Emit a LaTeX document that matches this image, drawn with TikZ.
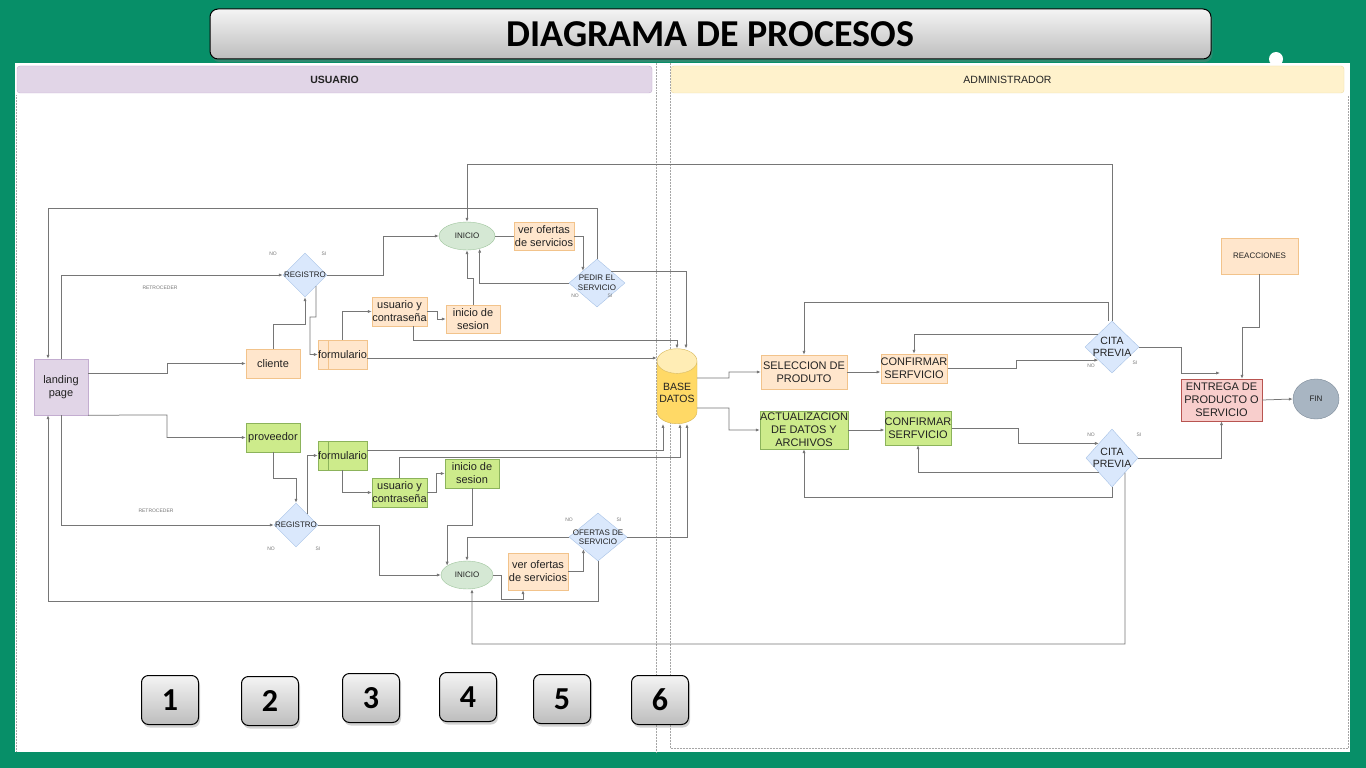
\documentclass[tikz,border=0pt]{standalone}
\usepackage{fontspec}
\setmainfont{Liberation Sans}
\newfontfamily\titlefont{Carlito}
\usetikzlibrary{shapes.geometric,arrows.meta,shadows,positioning}

\definecolor{bggreen}{HTML}{078F68}
\definecolor{orfill}{HTML}{FFE6CC}
\definecolor{ordraw}{HTML}{F2C38B}
\definecolor{grfill}{HTML}{CDEB8B}
\definecolor{grdraw}{HTML}{8CB35B}
\definecolor{lvfill}{HTML}{E1D5E7}
\definecolor{lvdraw}{HTML}{C3ADD0}
\definecolor{blfill}{HTML}{DAE8FC}
\definecolor{bldraw}{HTML}{A8C2E6}
\definecolor{ellfill}{HTML}{D5E8D4}
\definecolor{elldraw}{HTML}{9CC39A}
\definecolor{redfill}{HTML}{F8CECC}
\definecolor{reddraw}{HTML}{B85450}
\definecolor{finfill}{HTML}{A8B5C2}
\definecolor{findraw}{HTML}{7D8B99}
\definecolor{ylfill}{HTML}{FFF2CC}
\definecolor{yldraw}{HTML}{EEDCA5}
\definecolor{dbbody}{HTML}{FFD966}
\definecolor{dbtop}{HTML}{FFEDB5}
\definecolor{dbdraw}{HTML}{D6B656}
\definecolor{linegray}{HTML}{767676}
\definecolor{txtc}{HTML}{222222}
\definecolor{tinyc}{HTML}{777777}
\definecolor{btntop}{HTML}{F4F4F4}
\definecolor{btnbot}{HTML}{BDBDBD}

\begin{document}
\begin{tikzpicture}[
        x=1pt, y=-1pt,
        font=\fontsize{11}{13}\selectfont,
        line/.style={
            draw=linegray,
            line width=0.75pt
        },
        arrow/.style={
            line,
            -{Latex[length=4pt,width=3.2pt]}
        },
        box/.style={
            rectangle,
            draw,
            inner sep=0pt,
            align=center,
            text=txtc
        },
        orangebox/.style={
            box,
            fill=orfill,
            draw=ordraw
        },
        greenbox/.style={
            box,
            fill=grfill,
            draw=grdraw
        },
        processbox/.style={
            path picture={
                \draw[draw=#1] ([xshift=10pt]path picture bounding box.north west)
                    -- ([xshift=10pt]path picture bounding box.south west);
            }
        },
        decision/.style={
            diamond,
            draw=bldraw,
            fill=blfill,
            inner sep=0pt
        },
        dtext/.style={
            align=center,
            text=txtc,
            font=\fontsize{8}{9.5}\selectfont
        },
        startnode/.style={
            ellipse,
            draw=elldraw,
            fill=ellfill,
            inner sep=0pt,
            text=txtc,
            font=\fontsize{8}{9.5}\selectfont
        },
        tinylabel/.style={
            text=tinyc,
            inner sep=0pt,
            font=\fontsize{5}{6}\selectfont
        },
        lane/.style={
            rectangle,
            rounded corners=3pt,
            inner sep=0pt,
            minimum height=27pt,
            text=txtc,
            font=\fontsize{10.5}{12}\selectfont
        },
        lanesep/.style={
            densely dotted,
            draw=gray!70,
            line width=0.5pt
        },
        numbtn/.style={
            rectangle,
            rounded corners=7pt,
            draw=black,
            line width=1pt,
            top color=btntop,
            bottom color=btnbot,
            minimum width=57pt,
            minimum height=49pt,
            drop shadow={opacity=0.35, shadow xshift=1.5pt, shadow yshift=-3pt},
            font=\titlefont\bfseries\fontsize{32}{34}\selectfont
        }
    ]
    \useasboundingbox (0,0) rectangle (1366,768);
    % Background and lanes
    \fill[bggreen] (0,0) rectangle (1366,768);
    \fill[white] (15,63) rectangle (1350,752);
    \fill[white] (1276,59) circle (7pt);
    \node[numbtn, minimum width=1001pt, minimum height=50pt, rounded corners=8pt,
        font=\titlefont\bfseries\fontsize{38}{40}\selectfont] (title) at (710.5,34) {DIAGRAMA DE PROCESOS};
    \node[lane, fill=lvfill, draw=lvdraw, minimum width=635pt,
        font=\bfseries\fontsize{10.5}{12}\selectfont] (usuario) at (334.5,79.5) {USUARIO};
    \node[lane, fill=ylfill, draw=yldraw, minimum width=673pt] (admin) at (1007.5,79.5) {ADMINISTRADOR};
    \draw[lanesep] (656,63) -- (656,752);
    \draw[lanesep] (670,63) -- (670,748) -- (1348,748) -- (1348,95);
    \draw[lanesep] (16,95) -- (16,752);

    % Usuario: client side
    \node[box, fill=lvfill, draw=lvdraw, minimum width=54pt, minimum height=56pt] (landing) at (61,387) {landing\\page};
    \node[orangebox, minimum width=54pt, minimum height=29pt] (cliente) at (273,363.5) {cliente};
    \node[greenbox, minimum width=54pt, minimum height=29pt] (proveedor) at (273,437.5) {proveedor};
    \node[decision, minimum width=44pt, minimum height=44pt, label={[dtext]center:REGISTRO}] (reg1) at (305,275) {};
    \node[decision, minimum width=44pt, minimum height=44pt, label={[dtext]center:REGISTRO}] (reg2) at (296,525) {};
    \node[orangebox, processbox=ordraw, minimum width=49pt, minimum height=29pt] (form1) at (342.5,354.5) {formulario};
    \node[greenbox, processbox=grdraw, minimum width=49pt, minimum height=29pt] (form2) at (342.5,455.5) {formulario};
    \node[orangebox, minimum width=55pt, minimum height=29pt] (usr1) at (399.5,311.5) {usuario y\\contraseña};
    \node[orangebox, minimum width=54pt, minimum height=28pt] (ses1) at (473,319) {inicio de\\sesion};
    \node[greenbox, minimum width=55pt, minimum height=29pt] (usr2) at (399.5,492.5) {usuario y\\contraseña};
    \node[greenbox, minimum width=54pt, minimum height=29pt] (ses2) at (472,473.5) {inicio de\\sesion};
    \node[startnode, minimum width=56pt, minimum height=28pt] (inicio1) at (467,236) {INICIO};
    \node[startnode, minimum width=52pt, minimum height=28pt] (inicio2) at (467,575) {INICIO};
    \node[orangebox, minimum width=60pt, minimum height=28pt] (ver1) at (544,236) {ver ofertas\\de servicios};
    \node[orangebox, minimum width=60pt, minimum height=37pt] (ver2) at (538,571.5) {ver ofertas\\de servicios};
    \node[decision, minimum width=56pt, minimum height=48pt, label={[dtext]center:{PEDIR EL\\SERVICIO}}] (pedir) at (597,283) {};
    \node[decision, minimum width=58pt, minimum height=48pt, label={[dtext]center:{OFERTAS DE\\SERVICIO}}] (ofertas) at (598,537) {};
    \node[cylinder, shape border rotate=90, aspect=0.7, draw=dbdraw, cylinder uses custom fill,
        cylinder body fill=dbbody, cylinder end fill=dbtop, inner sep=0pt, align=center, text=txtc,
        minimum width=40pt, minimum height=75pt, font=\fontsize{10.5}{12}\selectfont] (base) at (677,392.5) {BASE\\DATOS};

    % Administrador
    \node[orangebox, minimum width=86pt, minimum height=34pt] (sel) at (804,372) {SELECCION DE\\PRODUTO};
    \node[orangebox, minimum width=64pt, minimum height=29pt] (conf1) at (914,368.5) {CONFIRMAR\\SERFVICIO};
    \node[greenbox, minimum width=86pt, minimum height=38pt] (act) at (804,430) {ACTUALIZACION\\DE DATOS Y\\ARCHIVOS};
    \node[greenbox, minimum width=66pt, minimum height=34pt] (conf2) at (918,428) {CONFIRMAR\\SERFVICIO};
    \node[decision, minimum width=54pt, minimum height=52pt,
        label={[dtext, font=\fontsize{10.5}{12}\selectfont]center:{CITA\\PREVIA}}] (cita1) at (1112,347) {};
    \node[decision, minimum width=52pt, minimum height=58pt,
        label={[dtext, font=\fontsize{10.5}{12}\selectfont]center:{CITA\\PREVIA}}] (cita2) at (1112,458) {};
    \node[orangebox, minimum width=77pt, minimum height=36pt, font=\fontsize{8}{9.5}\selectfont] (reac) at (1259.5,256) {REACCIONES};
    \node[box, fill=redfill, draw=reddraw, minimum width=81pt, minimum height=42pt] (entrega) at (1221.5,400) {ENTREGA DE\\PRODUCTO O\\SERVICIO};
    \node[ellipse, draw=findraw, fill=finfill, inner sep=0pt, minimum width=46pt, minimum height=40pt,
        font=\fontsize{8}{9.5}\selectfont, text=txtc] (fin) at (1316,399) {FIN};
    \coordinate (entin) at (1220,373);

    % NO / SI labels
    \foreach \name/\txt/\x/\y in {no1/NO/273/254, si1/SI/324/254, no2/NO/271/549, si2/SI/318/549,
        no3/NO/575/296, si3/SI/610/296, no4/NO/569/520, si4/SI/619/520,
        no5/NO/1091/366, si5/SI/1135/363, no6/NO/1091/435, si6/SI/1139/435}
        \node[tinylabel] (\name) at (\x,\y) {\txt};
    \node[tinylabel] (ret1) at (160,288) {RETROCEDER};
    \node[tinylabel] (ret2) at (156,511) {RETROCEDER};

    % Connections: client side
    \draw[arrow] (pedir.north) |- (48,208) -- (landing.north -| 48,0);
    \draw[arrow] (landing.north) |- (reg1.west);
    \draw[arrow] (cliente.north) |- (305,324) -- (reg1.south);
    \draw[arrow] (reg1.south east) -- (316,317) -- (310,317) |- (form1.west);
    \draw[arrow] (landing.east |- 0,373) -- (167,373) |- (cliente.west);
    \draw[arrow] (landing.south east) -- (167,415) |- (proveedor.west);
    \draw[arrow] (landing.south) |- (reg2.west);
    \draw[arrow] (ofertas.south) |- (48,601) -- (landing.south -| 48,0);
    \draw[arrow] (proveedor.south) |- (296,478) -- (reg2.north);
    \draw[arrow] (reg2.north east) |- (form2.west);
    \draw[arrow] (reg2.east) -- (379,525) |- (inicio2.west);
    \draw[arrow] (reg1.east) -- (383,275) |- (inicio1.west);
    \draw[arrow] (cita1.north) -- (1112,164) -| (inicio1.north);
    \draw[line] (inicio1) -- (ver1);
    \draw[arrow] (ver1.east) -| (pedir.north west);
    \draw[arrow] (pedir.west) -| (inicio1.-45);
    \draw[arrow] (ses1.north) -- (473,278) -| (inicio1.south);
    \draw[arrow] (usr1.east) -- (437,311.5) |- (ses1.west);
    \draw[arrow] (form1.north) |- (usr1.west);
    \draw[arrow] (usr1.south -| 413,0) -- (413,340) -| (base.north);
    \draw[arrow] (form1.east |- 0,358) -- (base.west |- 0,358);
    \draw[arrow] (pedir.north east) -| ([xshift=9pt]base.north);
    % Connections: provider side
    \draw[arrow] ([yshift=5pt]form2.east) -| ([xshift=-14pt]base.south);
    \draw[arrow] (usr2.north) |- (680,457) -- ([xshift=3pt]base.south);
    \draw[arrow] (ofertas.east) -| ([xshift=10pt]base.south);
    \draw[arrow] (form2.south) |- (usr2.west);
    \draw[arrow] (usr2.east) -- (436,492.5) |- (ses2.west);
    \draw[arrow] (ses2.south) -- (472,525) -| (inicio2.155);
    \draw[arrow] (ofertas.west) -| (inicio2.north);
    \draw[arrow] (inicio2.east) -- (501,575) |- (523,599) -- ([xshift=-15pt]ver2.south);
    \draw[arrow] (ver2.east) -| (ofertas.south west);
    \draw[arrow] (cita2.south east) -- (1125,644) -| ([xshift=5pt]inicio2.south);
    % Connections: administrador
    \draw[arrow] ([yshift=14.5pt]base.east) -- (729,378) |- (sel.west);
    \draw[arrow] ([yshift=-15.5pt]base.east) -- (729,408) |- (act.west);
    \draw[arrow] (sel.east) -- (sel.east -| conf1.west);
    \draw[arrow] (act.east) -- (act.east -| conf2.west);
    \draw[arrow] ([xshift=-4pt]cita1.north) -- (1108,302) -| (sel.north);
    \draw[arrow] (cita1.north west) -| (conf1.north);
    \draw[arrow] (conf1.east) -- (1016,368.5) |- (cita1.south west);
    \draw[arrow] (conf2.east) -- (1018,428) |- (cita2.north west);
    \draw[arrow] (cita2.south west) -| (conf2.south);
    \draw[arrow] (cita2.south) -- (1112,497) -| (act.south);
    \draw[arrow] (cita1.east) -- (1181,347) |- (entin);
    \draw[arrow] (reac.south) -- (1259.5,327) -| ([xshift=20.5pt]entrega.north);
    \draw[arrow] (cita2.east) -| (entrega.south);
    \draw[arrow] (entrega.east) -- (fin.west);

    % Number buttons
    \foreach \n/\x/\y in {1/170/700, 2/270/701, 3/371/698, 4/468/697, 5/562/699, 6/660/700}
        \node[numbtn] (btn\n) at (\x,\y) {\n};
\end{tikzpicture}
\end{document}
